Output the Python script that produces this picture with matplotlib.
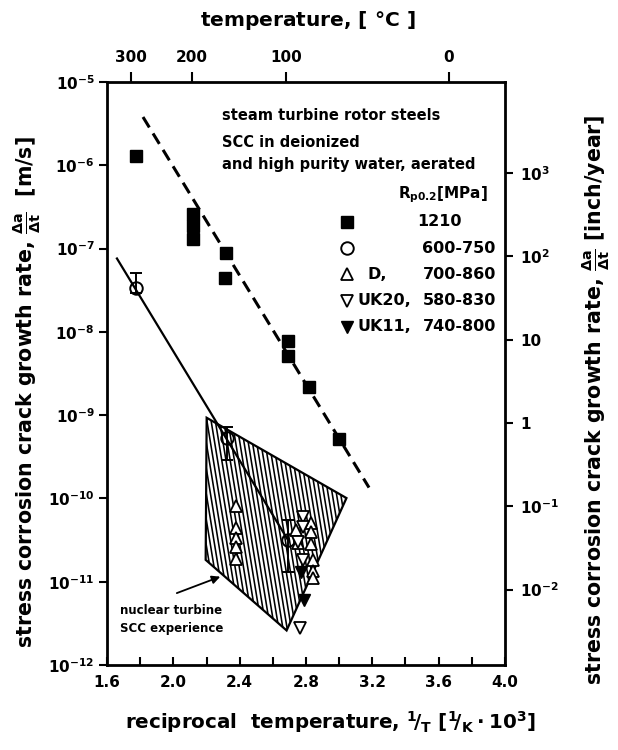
import numpy as np
import matplotlib.pyplot as plt
from matplotlib.patches import Polygon
from matplotlib.collections import LineCollection

plt.rcParams['font.family'] = ['DejaVu Sans']
plt.rcParams['font.weight'] = 'bold'
plt.rcParams['mathtext.fontset'] = 'dejavusans'

# rotor steel, Rp0.2 = 1210 MPa
x_1210 = [1.774, 2.117, 2.117, 2.117, 2.316, 2.310, 2.689, 2.689, 2.821, 2.996]
y_1210 = [1.29e-6, 2.6e-7, 1.87e-7, 1.30e-7, 8.9e-8, 4.4e-8, 7.8e-9, 5.1e-9, 2.2e-9, 5.2e-10]

# 600-750 MPa with scatter bands
x_600 = [1.774, 2.322, 2.689]
y_600 = [3.4e-8, 5.3e-10, 3.2e-11]
y_600_lo = [2.9e-8, 2.9e-10, 1.3e-11]
y_600_hi = [5.1e-8, 7.2e-10, 5.5e-11]

# D, 700-860 MPa
x_d = [2.376, 2.376, 2.376, 2.376, 2.376,
       2.737, 2.833, 2.833, 2.833, 2.749, 2.845, 2.845, 2.845]
y_d = [8.1e-11, 4.4e-11, 3.36e-11, 2.6e-11, 1.88e-11,
       4.2e-11, 5.1e-11, 3.9e-11, 2.85e-11, 2.9e-11, 1.83e-11, 1.35e-11, 1.11e-11]

# UK20, 580-830 MPa
x_uk20 = [2.779, 2.779, 2.749, 2.779, 2.761]
y_uk20 = [6.0e-11, 4.5e-11, 3.0e-11, 1.83e-11, 2.8e-12]

# UK11, 740-800 MPa
x_uk11 = [2.785, 2.767]
y_uk11 = [6.1e-12, 1.31e-11]

# fitted trend lines
fit_1210_x = [1.817, 3.18]
fit_1210_y = [3.8e-6, 1.35e-10]
fit_600_x = [1.66, 2.69]
fit_600_y = [7.6e-8, 3.2e-11]

# nuclear turbine experience band
band_x = [2.201, 3.044, 2.683, 2.195]
band_y = [9.3e-10, 1.01e-10, 2.6e-12, 1.83e-11]

# in/year per m/s
M_S_TO_IN_YR = 1.0 / 8.049e-10

temps_c = [300, 200, 100, 0]

fig = plt.figure(figsize=(6.18, 7.5), dpi=100)
ax = fig.add_axes([107/618, 1 - 665/750, 398/618, 583/750])
ax.set_yscale('log')
ax.set_xlim(1.6, 4.0)
ax.set_ylim(1e-12, 1e-5)

# hatched band
band = Polygon(np.column_stack([band_x, band_y]), closed=True,
               facecolor='white', edgecolor='black', lw=1.6, zorder=2)
ax.add_patch(band)
u = np.arange(-0.3, 1.0, 4.2 / 398)
segs = [[(a, 1.0), (a + 0.24, 0.0)] for a in u]
hatch = LineCollection(segs, colors='black', linewidths=1.15,
                       transform=ax.transAxes, zorder=2)
hatch.set_clip_path(band)
ax.add_collection(hatch)

ax.plot(fit_1210_x, fit_1210_y, color='black', lw=2.2, dashes=(4, 2.3), zorder=3)
ax.plot(fit_600_x, fit_600_y, color='black', lw=1.6, zorder=3)

ax.errorbar(x_600, y_600,
            yerr=[np.array(y_600) - np.array(y_600_lo), np.array(y_600_hi) - np.array(y_600)],
            fmt='none', ecolor='black', elinewidth=1.4, capsize=4, capthick=1.4, zorder=4)
ax.plot(x_600, y_600, 'o', ms=9, mfc='none', mec='black', mew=1.4, zorder=5)
ax.plot(x_1210, y_1210, 's', ms=8.5, color='black', zorder=5)
ax.plot(x_d, y_d, '^', ms=8, mfc='white', mec='black', mew=1.3, zorder=6)
ax.plot(x_uk20, y_uk20, 'v', ms=8, mfc='white', mec='black', mew=1.3, zorder=6)
ax.plot(x_uk11, y_uk11, 'v', ms=8, color='black', zorder=6)

# key and descriptive text
ax.text(0.289, 0.943, 'steam turbine rotor steels', transform=ax.transAxes,
        fontsize=10.5, va='center')
ax.text(0.289, 0.897, 'SCC in deionized', transform=ax.transAxes,
        fontsize=10.5, va='center')
ax.text(0.289, 0.858, 'and high purity water, aerated', transform=ax.transAxes,
        fontsize=10.5, va='center')
ax.text(0.957, 0.806, r'R$_{\mathbf{p0.2}}$$[$MPa$]$', transform=ax.transAxes,
        fontsize=11, va='center', ha='right')

key_styles = [dict(marker='s', ms=8.5, color='black'),
              dict(marker='o', ms=9, mfc='none', mec='black', mew=1.4),
              dict(marker='^', ms=8, mfc='white', mec='black', mew=1.3),
              dict(marker='v', ms=8, mfc='white', mec='black', mew=1.3),
              dict(marker='v', ms=8, color='black')]
key_names = ['', '', 'D,', 'UK20,', 'UK11,']
key_ranges = ['1210', '600-750', '700-860', '580-830', '740-800']
key_name_x = [0.0, 0.0, 0.655, 0.630, 0.630]
for i, (st, nm, rg) in enumerate(zip(key_styles, key_names, key_ranges)):
    yk = 0.760 - i * 0.045
    ax.plot([0.603], [yk], transform=ax.transAxes, clip_on=False, **st)
    if nm:
        ax.text(key_name_x[i], yk, nm, transform=ax.transAxes, fontsize=11.5, va='center')
    ax.text(0.892 if i == 0 else 0.977, yk, rg, transform=ax.transAxes,
            fontsize=11.5, va='center', ha='right')

ax.text(0.033, 0.094, 'nuclear turbine', transform=ax.transAxes, fontsize=8.5, va='center')
ax.text(0.033, 0.063, 'SCC experience', transform=ax.transAxes, fontsize=8.5, va='center')
ax.annotate('', xy=(2.283, 1.15e-11), xytext=(2.021, 7.3e-12),
            arrowprops=dict(arrowstyle='-|>', color='black', lw=1.3,
                            mutation_scale=12, shrinkA=0, shrinkB=0))

# axes, ticks
for s in ax.spines.values():
    s.set_linewidth(2)
ax.set_xticks(np.arange(1.6, 4.01, 0.4))
ax.set_xticks(np.arange(1.6, 4.01, 0.2), minor=True)
ax.set_xticklabels([f'{v:.1f}' for v in np.arange(1.6, 4.01, 0.4)])
ax.tick_params(axis='x', which='both', direction='in', top=True, length=6, width=1.5,
               labelsize=11, pad=7)
ax.set_yticks([10.0 ** e for e in range(-12, -4)])
ax.set_yticklabels([r'$\mathbf{10^{%d}}$' % e for e in range(-12, -4)])
ax.yaxis.set_minor_locator(plt.NullLocator())
ax.tick_params(axis='y', direction='out', length=6, width=1.5, labelsize=11, pad=3)

top = ax.twiny()
top.set_xlim(ax.get_xlim())
top.set_xticks([1000.0 / (t + 273.15) for t in temps_c])
top.set_xticklabels([str(t) for t in temps_c])
top.tick_params(axis='x', direction='out', length=7, width=1.5, labelsize=11, pad=5)
for s in top.spines.values():
    s.set_visible(False)

right = ax.twinx()
right.set_yscale('log')
right.set_ylim(1e-12 * M_S_TO_IN_YR, 1e-5 * M_S_TO_IN_YR)
right.set_yticks([1e-2, 1e-1, 1, 10, 1e2, 1e3])
right.set_yticklabels([r'$\mathbf{10^{-2}}$', r'$\mathbf{10^{-1}}$', '1', '10',
                       r'$\mathbf{10^{2}}$', r'$\mathbf{10^{3}}$'])
right.yaxis.set_minor_locator(plt.NullLocator())
right.tick_params(axis='y', direction='out', length=6, width=1.5, labelsize=11, pad=5)
for s in right.spines.values():
    s.set_visible(False)

fig.text(308/618, 1 - 20/750, r'temperature, $[$ °C $]$', fontsize=14.5,
         ha='center', va='center')
fig.text(330/618, 1 - 722/750,
         r'reciprocal  temperature, $\mathbf{{}^{1}\!/_{T}}$ $[$$\mathbf{{}^{1}\!/_{K}\cdot 10^{3}}$$]$',
         fontsize=14.3, ha='center', va='center')
fig.text(27/618, 1 - 392/750,
         r'stress corrosion crack growth rate, $\mathbf{\frac{\Delta a}{\Delta t}}$  $[$m/s$]$',
         fontsize=14.8, rotation=90, ha='center', va='center')
fig.text(596/618, 1 - 400/750,
         r'stress corrosion crack growth rate, $\mathbf{\frac{\Delta a}{\Delta t}}$ $[$inch/year$]$',
         fontsize=14.8, rotation=90, ha='center', va='center')

fig.savefig('out.png', dpi=100)
